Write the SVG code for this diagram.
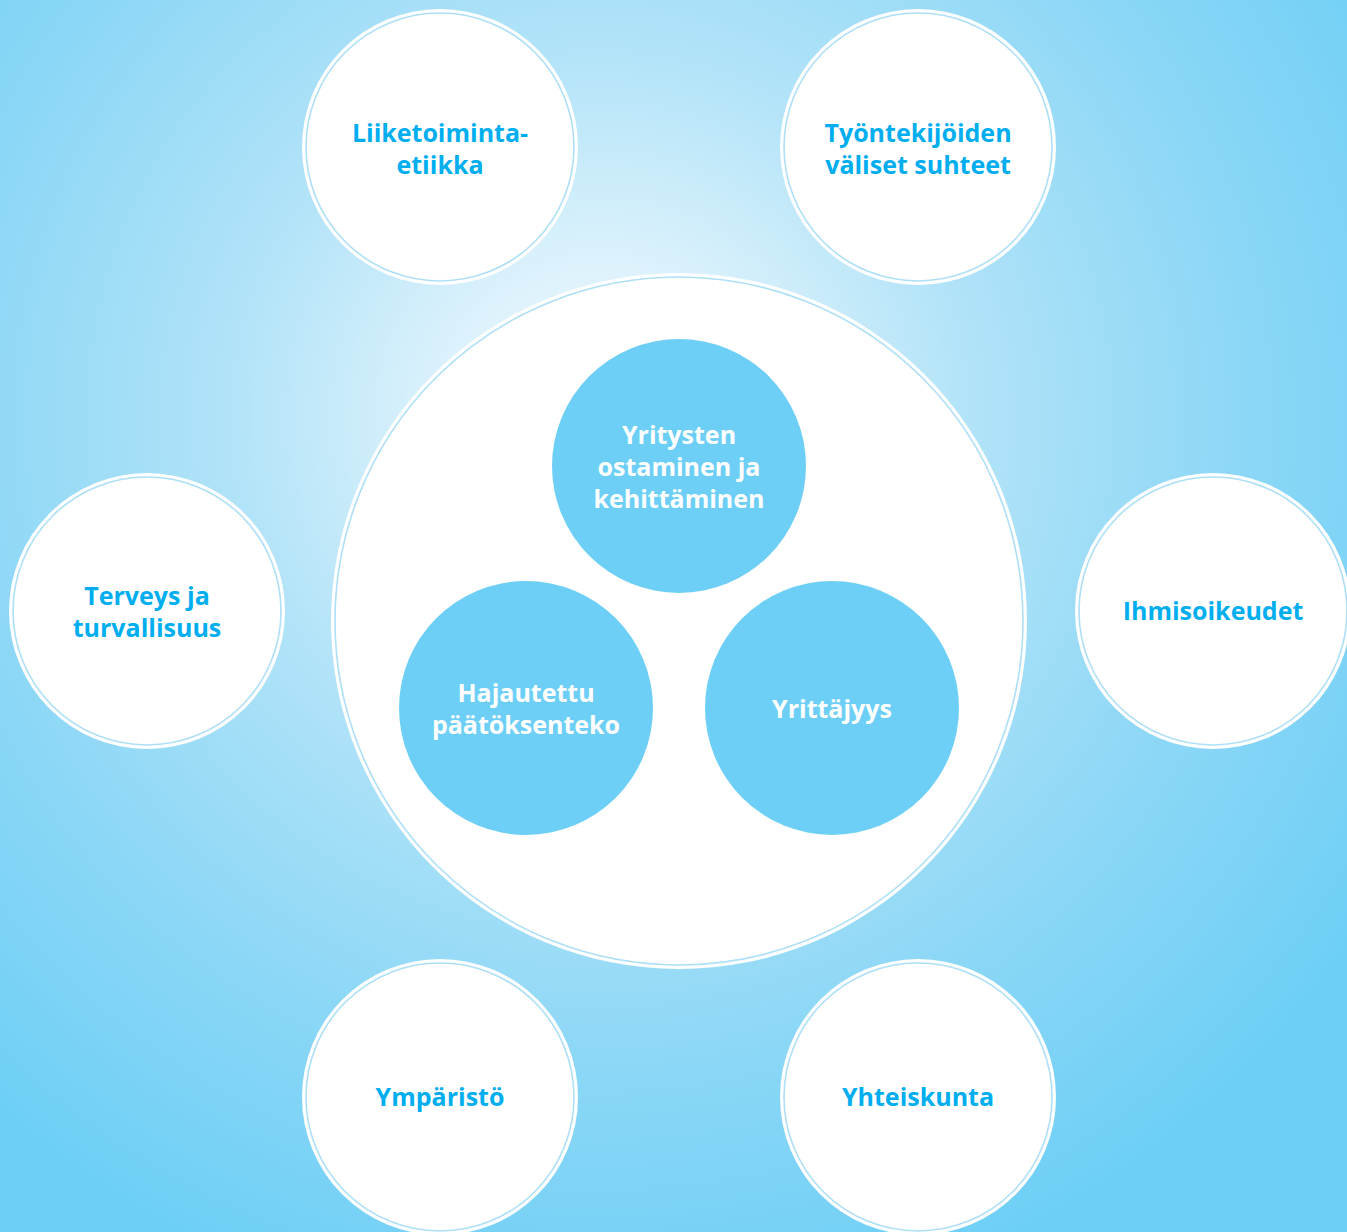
<svg xmlns="http://www.w3.org/2000/svg" width="1347" height="1232" viewBox="0 0 1347 1232">
  <defs>
    <radialGradient id="bg" gradientUnits="userSpaceOnUse" cx="600" cy="420" r="920">
      <stop offset="0" stop-color="#f4fbfe"/>
      <stop offset="0.15" stop-color="#e0f3fc"/>
      <stop offset="0.4" stop-color="#b2e3f8"/>
      <stop offset="0.7" stop-color="#8cd7f6"/>
      <stop offset="1" stop-color="#6dcff6"/>
    </radialGradient>
  </defs>
  <style>
    .disc { fill: #ffffff; }
    .ring { fill: none; stroke: #addff7; stroke-width: 1.6; }
    .inner { fill: #6dcff6; }
    .lbl { font-family: "Open Sans", "Liberation Sans", sans-serif; font-weight: 700; font-size: 25px; fill: #00aeef; text-anchor: middle; }
    .wlbl { font-family: "Open Sans", "Liberation Sans", sans-serif; font-weight: 700; font-size: 25px; fill: #ffffff; text-anchor: middle; }
  </style>
  <rect x="0" y="0" width="1347" height="1232" fill="url(#bg)"/>

  <g id="core">
    <circle class="disc" cx="679" cy="621" r="348"/>
    <circle class="ring" cx="679" cy="621" r="344"/>
  </g>

  <g id="n-yritysten">
    <circle class="inner" cx="679" cy="466" r="127"/>
    <text class="wlbl" x="679" y="444">Yritysten</text>
    <text class="wlbl" x="679" y="476">ostaminen ja</text>
    <text class="wlbl" x="679" y="508">kehittäminen</text>
  </g>
  <g id="n-hajautettu">
    <circle class="inner" cx="526" cy="708" r="127"/>
    <text class="wlbl" x="526" y="702">Hajautettu</text>
    <text class="wlbl" x="526" y="734">päätöksenteko</text>
  </g>
  <g id="n-yrittajyys">
    <circle class="inner" cx="832" cy="708" r="127"/>
    <text class="wlbl" x="832" y="718">Yrittäjyys</text>
  </g>

  <g id="n-liiketoiminta">
    <circle class="disc" cx="440" cy="147" r="138"/>
    <circle class="ring" cx="440" cy="147" r="134"/>
    <text class="lbl" x="440" y="142">Liiketoiminta-</text>
    <text class="lbl" x="440" y="174">etiikka</text>
  </g>
  <g id="n-tyontekijoiden">
    <circle class="disc" cx="918" cy="147" r="138"/>
    <circle class="ring" cx="918" cy="147" r="134"/>
    <text class="lbl" x="918" y="142">Työntekijöiden</text>
    <text class="lbl" x="918" y="174">väliset suhteet</text>
  </g>
  <g id="n-terveys">
    <circle class="disc" cx="147" cy="611" r="138"/>
    <circle class="ring" cx="147" cy="611" r="134"/>
    <text class="lbl" x="147" y="605">Terveys ja</text>
    <text class="lbl" x="147" y="637">turvallisuus</text>
  </g>
  <g id="n-ihmisoikeudet">
    <circle class="disc" cx="1213" cy="611" r="138"/>
    <circle class="ring" cx="1213" cy="611" r="134"/>
    <text class="lbl" x="1213" y="620">Ihmisoikeudet</text>
  </g>
  <g id="n-ymparisto">
    <circle class="disc" cx="440" cy="1097" r="138"/>
    <circle class="ring" cx="440" cy="1097" r="134"/>
    <text class="lbl" x="440" y="1106">Ympäristö</text>
  </g>
  <g id="n-yhteiskunta">
    <circle class="disc" cx="918" cy="1097" r="138"/>
    <circle class="ring" cx="918" cy="1097" r="134"/>
    <text class="lbl" x="918" y="1106">Yhteiskunta</text>
  </g>

  <g id="connectors"></g>
</svg>
